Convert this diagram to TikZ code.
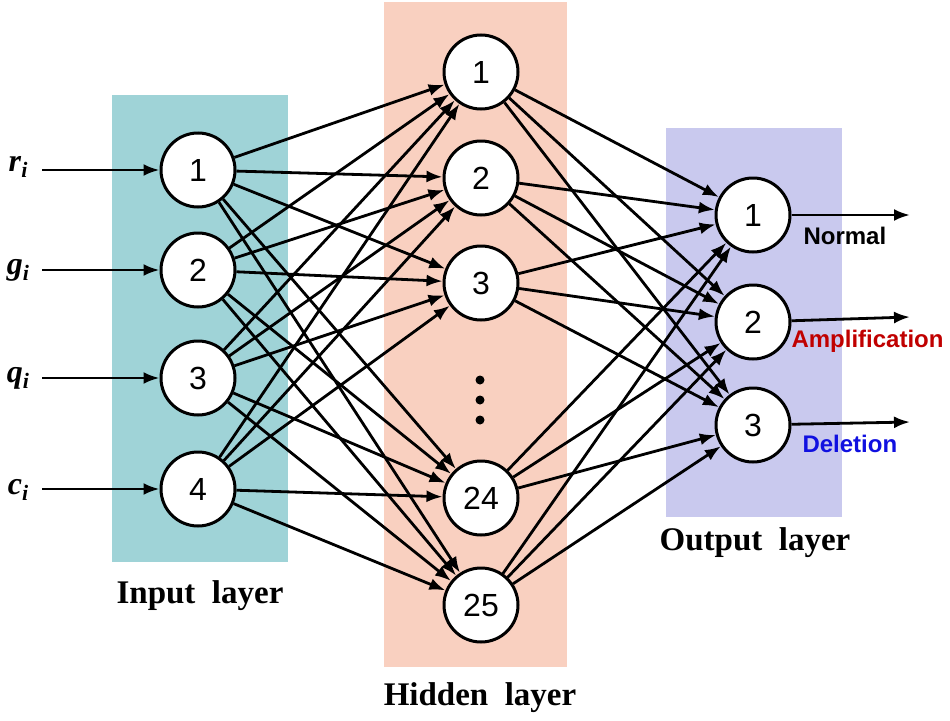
\documentclass[tikz,border=0pt]{standalone}
\usepackage{fontspec}
\setmainfont{Liberation Serif}
\newfontfamily\arialf{Liberation Sans}
\usetikzlibrary{arrows.meta}
\definecolor{inbg}{HTML}{9FD3D7}
\definecolor{hidbg}{HTML}{F9D0C0}
\definecolor{outbg}{HTML}{C9C9EE}
\definecolor{ampred}{HTML}{C00000}
\definecolor{delblue}{HTML}{1010E0}
\newcommand{\myvar}[1]{\textbf{\textit{#1}}\raisebox{-6pt}{\fontsize{22}{22}\selectfont\textbf{\textit{i}}}}
\tikzset{
  neuron/.style={circle,draw=black,line width=3pt,fill=white,minimum size=74pt,inner sep=0pt,font=\arialf\fontsize{32}{32}\selectfont},
  conn/.style={line width=2.8pt,-{Latex[length=16pt,width=12pt]}},
  layerlabel/.style={font=\bfseries\fontsize{33}{33}\selectfont},
  varlabel/.style={font=\fontsize{32}{32}\selectfont},
  outlabel/.style={font=\arialf\bfseries\fontsize{24}{24}\selectfont},
  dotmark/.style={circle,fill=black,inner sep=0pt,minimum size=9pt}
}
\begin{document}
\begin{tikzpicture}[x=1pt,y=-1pt]
\useasboundingbox (0,0) rectangle (950,720);
% backgrounds
\fill[inbg] (112,95) rectangle (288,562);
\fill[hidbg] (384,2) rectangle (567,667);
\fill[outbg] (666,128) rectangle (842,517);
% nodes
\node[neuron] (i1) at (198,170) {1};
\node[neuron] (i2) at (198,270) {2};
\node[neuron] (i3) at (198,378) {3};
\node[neuron] (i4) at (198,489) {4};
\node[neuron] (h1) at (481,72) {1};
\node[neuron] (h2) at (481,178) {2};
\node[neuron] (h3) at (481,283) {3};
\node[neuron] (h24) at (481,498) {24};
\node[neuron] (h25) at (481,605) {25};
\node[neuron] (o1) at (753,215) {1};
\node[neuron] (o2) at (753,322) {2};
\node[neuron] (o3) at (753,425) {3};
\node[dotmark] (d1) at (480,380) {};
\node[dotmark] (d2) at (480,400) {};
\node[dotmark] (d3) at (480,420) {};
% input labels
\node[varlabel] (lr) at (18,167) {\myvar{r}};
\node[varlabel] (lg) at (18,270) {\myvar{g}};
\node[varlabel] (lq) at (18,378) {\myvar{q}};
\node[varlabel] (lc) at (18,490) {\myvar{c}};
\coordinate (s1) at (42,170);
\coordinate (s2) at (42,270);
\coordinate (s3) at (42,378);
\coordinate (s4) at (42,489);
\foreach \k in {1,2,3,4} \draw[conn] (s\k) -- (i\k);
% input to hidden
\foreach \a in {1,2,3,4}
  \foreach \b in {1,2,3,24,25}
    \draw[conn] (i\a) -- (h\b);
% hidden to output
\foreach \a in {1,2,3,24,25}
  \foreach \b in {1,2,3}
    \draw[conn] (h\a) -- (o\b);
% outputs
\coordinate (e1) at (910,215);
\coordinate (e2) at (910,317);
\coordinate (e3) at (910,422);
\foreach \k in {1,2,3} \draw[conn] (o\k) -- (e\k);
\node[outlabel,text=black,anchor=west] (n1) at (800,236) {Normal};
\node[outlabel,text=ampred,anchor=west] (n2) at (788,341) {Amplification};
\node[outlabel,text=delblue,anchor=west] (n3) at (799,444) {Deletion};
% layer labels
\node[layerlabel] (li) at (200,596) {Input\ \ layer};
\node[layerlabel] (lh) at (480,698) {Hidden\ \ layer};
\node[layerlabel] (lo) at (755,543) {Output\ \ layer};
\end{tikzpicture}
\end{document}
